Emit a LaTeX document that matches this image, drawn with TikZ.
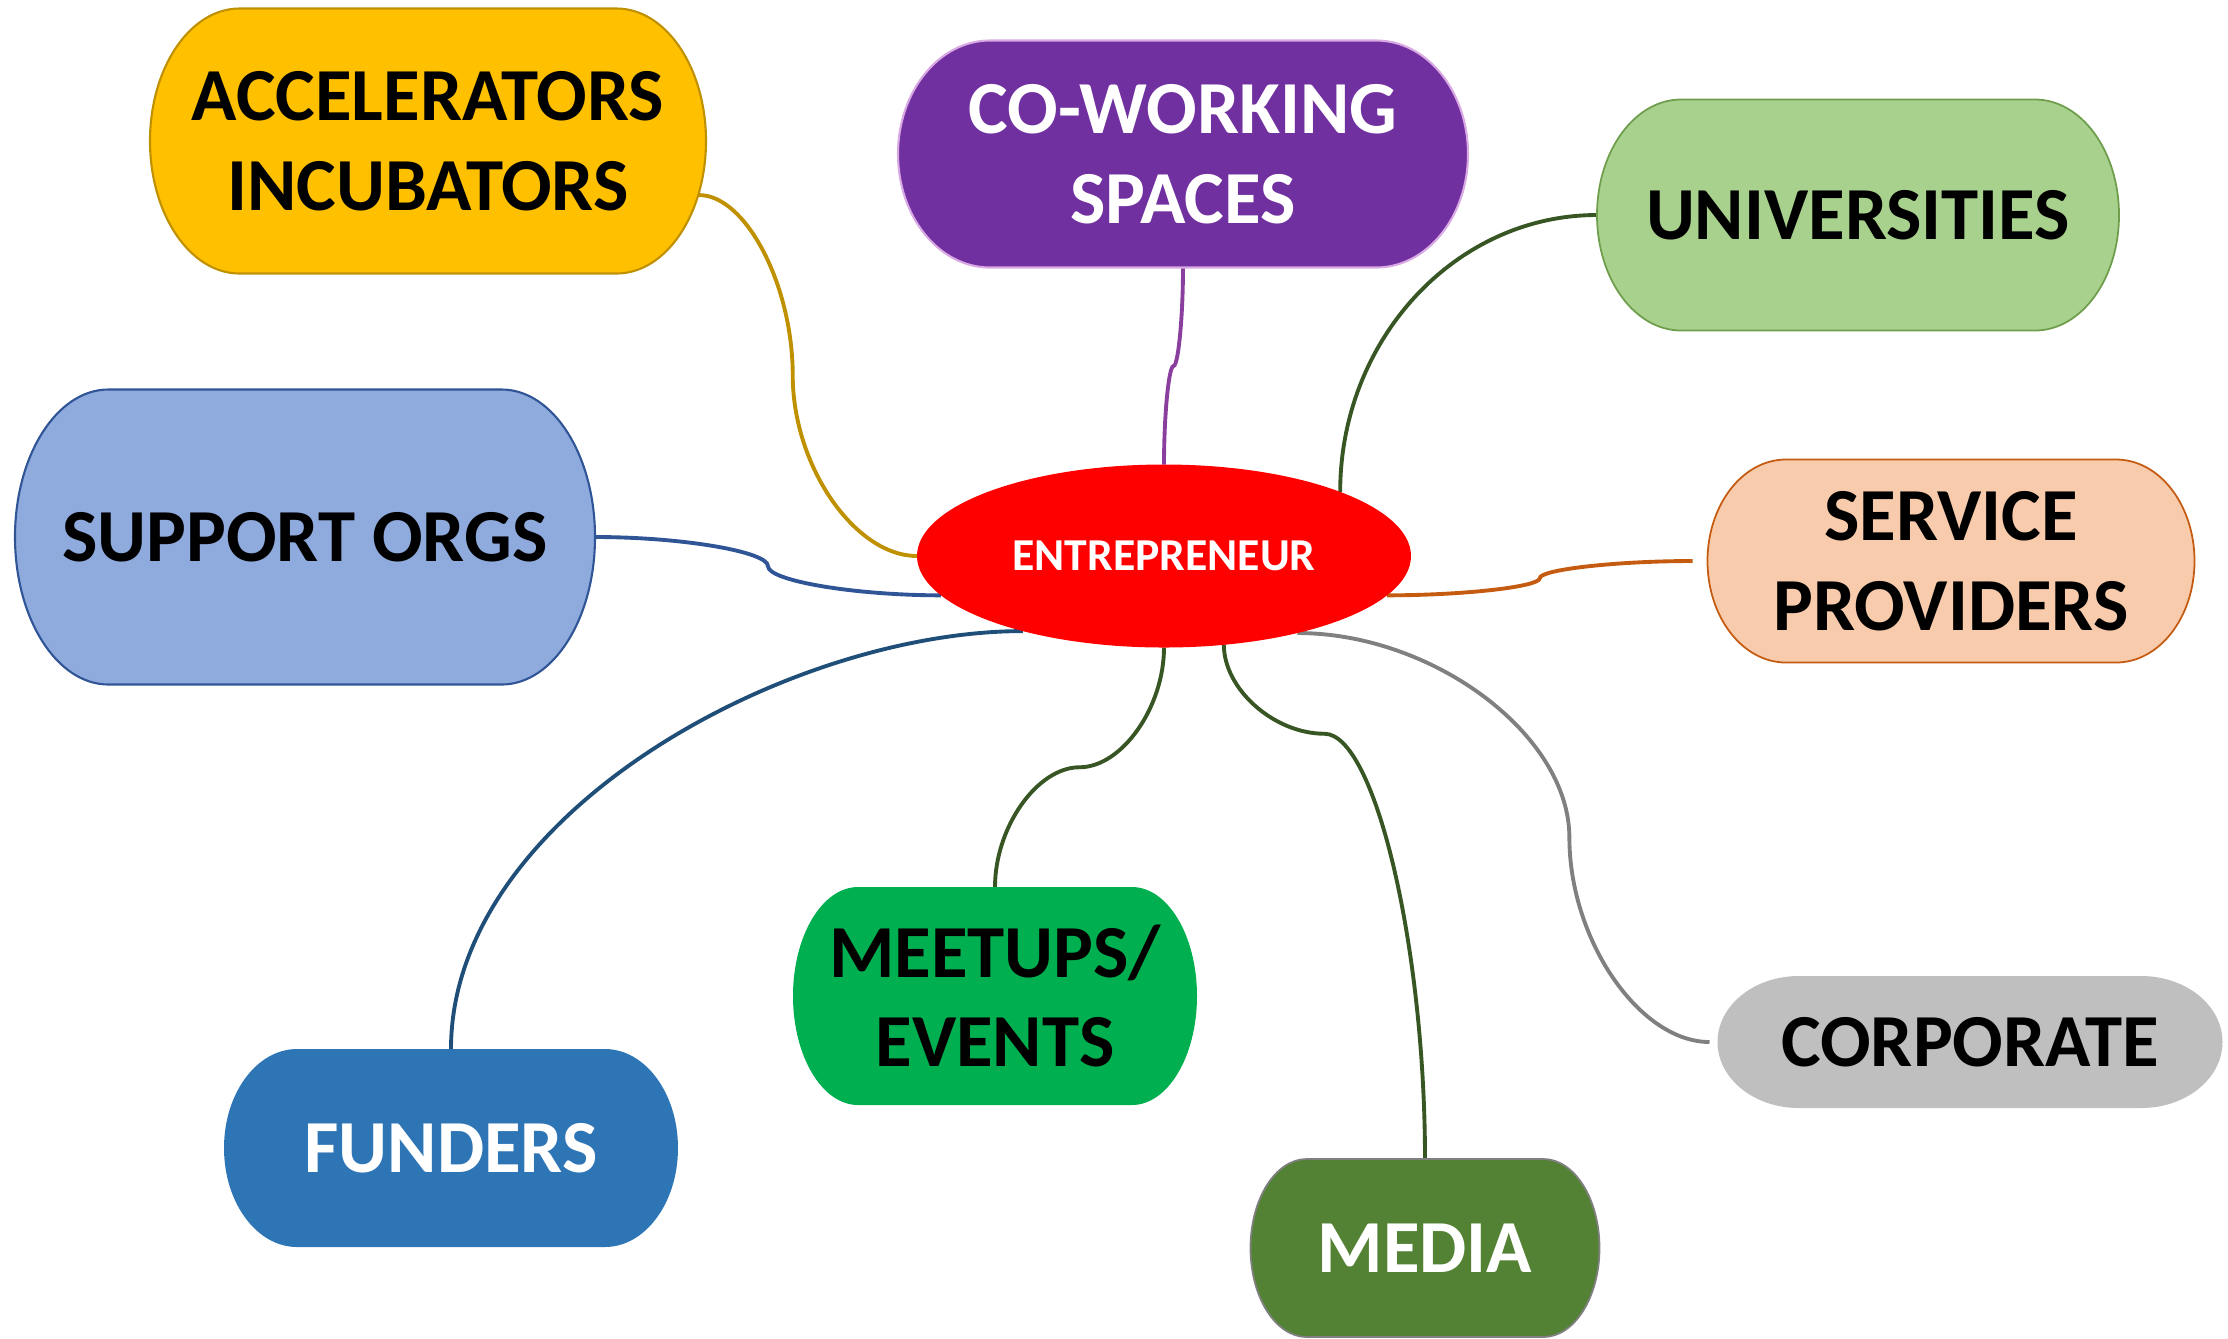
\documentclass[tikz,border=0pt]{standalone}
\usepackage{fontspec}
\setmainfont{Carlito}
\usetikzlibrary{calc,backgrounds,shapes.geometric}

\definecolor{accfill}{HTML}{FFC000}
\definecolor{accline}{HTML}{BF9000}
\definecolor{cofill}{HTML}{7030A0}
\definecolor{coline}{HTML}{D9A9E3}
\definecolor{colink}{HTML}{8A3E9E}
\definecolor{unifill}{HTML}{A9D18E}
\definecolor{uniline}{HTML}{6E9E4C}
\definecolor{supfill}{HTML}{8FAADC}
\definecolor{supline}{HTML}{2F5597}
\definecolor{servfill}{HTML}{F8CBAD}
\definecolor{servline}{HTML}{C55A11}
\definecolor{fundfill}{HTML}{2E75B6}
\definecolor{fundlink}{HTML}{1F4E79}
\definecolor{meetfill}{HTML}{00B050}
\definecolor{mediafill}{HTML}{548235}
\definecolor{corpfill}{HTML}{BFBFBF}
\definecolor{darkgreen}{HTML}{375623}

% box with half-ellipse ends, drawn round a node
\def\termshape(#1)[#2]{\path[#2] let \p1=(#1.south west), \p2=(#1.north east), \n1={0.161*(\x2-\x1)}, \n2={(\y2-\y1)/2} in ({\x1+\n1*1pt},\y2) -- ({\x2-\n1*1pt},\y2) arc[start angle=90, end angle=-90, x radius=\n1*1pt, y radius=\n2*1pt] -- ({\x1+\n1*1pt},\y1) arc[start angle=270, end angle=90, x radius=\n1*1pt, y radius=\n2*1pt] -- cycle;}
% curved links with one bend, #4 = where the bend sits
\def\bendh[#1](#2)(#3)#4{\draw[#1] let \p1=(#2), \p2=(#3), \n1={#4*(\x2-\x1)} in (\p1) .. controls +({\n1*0.5pt},0pt) and +(0pt,{(\y1-\y2)/4}) .. ({\x1+\n1*1pt},{(\y1+\y2)/2}) .. controls +(0pt,{(\y2-\y1)/4}) and +({(\x1-\x2+\n1*1pt)/2},0pt) .. (\p2);}
\def\bendv[#1](#2)(#3)#4{\draw[#1] let \p1=(#2), \p2=(#3), \n1={#4*(\y2-\y1)} in (\p1) .. controls +(0pt,{\n1*0.5pt}) and +({(\x1-\x2)/4},0pt) .. ({(\x1+\x2)/2},{\y1+\n1*1pt}) .. controls +({(\x2-\x1)/4},0pt) and +(0pt,{(\y1-\y2+\n1*1pt)/2}) .. (\p2);}

\begin{document}
\begin{tikzpicture}[
    box/.style={rectangle, inner sep=0pt, outer sep=0pt, align=center,
      font=\bfseries\fontsize{21.3}{25.5}\selectfont},
    link/.style={line width=1.1pt}]
  \useasboundingbox (0,0) rectangle (22.28,-13.38);

  % centre
  \node[ellipse, fill=red, inner sep=0pt, outer sep=0pt, minimum width=4.94cm, minimum height=1.83cm,
    text=white, font=\bfseries\fontsize{13}{15}\selectfont] (hub) at (11.64,-5.56) {ENTREPRENEUR};

  % boxes
  \node[box, minimum width=5.56cm, minimum height=2.65cm] (acc) at (4.28,-1.41) {ACCELERATORS\\INCUBATORS};
  \node[box, text=white, minimum width=5.70cm, minimum height=2.27cm] (co) at (11.83,-1.54) {CO-WORKING\\SPACES};
  \node[box, minimum width=5.22cm, minimum height=2.31cm] (univ) at (18.58,-2.15) {UNIVERSITIES};
  \node[box, minimum width=5.80cm, minimum height=2.95cm] (sup) at (3.05,-5.37) {SUPPORT ORGS};
  \node[box, minimum width=4.87cm, minimum height=2.03cm] (serv) at (19.51,-5.61) {SERVICE\\PROVIDERS};
  \node[box, text=white, minimum width=4.54cm, minimum height=1.98cm] (fund) at (4.51,-11.48) {FUNDERS};
  \node[box, minimum width=4.04cm, minimum height=2.18cm] (meet) at (9.95,-9.96) {MEETUPS/\\EVENTS};
  \node[box, text=white, minimum width=3.49cm, minimum height=1.78cm] (media) at (14.25,-12.48) {MEDIA};
  \node[box, minimum width=5.05cm, minimum height=1.32cm] (corp) at (19.70,-10.42) {CORPORATE};

  \coordinate (accout) at ($(acc.-11)+(-0.07,0)$);
  \coordinate (servin) at ($(serv.west)+(-0.15,0)$);
  \coordinate (corpin) at ($(corp.west)+(-0.08,0)$);

  \begin{scope}[on background layer]
    % links
    \bendh[link, accline](accout)(hub.west){.43}
    \bendv[link, colink](co.south)(hub.north){.5}
    \draw[link, darkgreen] (univ.west) .. controls +(-1.42,0) and +(0,1.52) .. (hub.20);
    \bendh[link, supline](sup.east)(hub.190){.5}
    \bendh[link, servline](hub.-10)(servin){.5}
    \draw[link, fundlink] (fund.north) .. controls +(0,2.35) and +(-2.35,0) .. (hub.208);
    \bendv[link, darkgreen](hub.south)(meet.north){.5}
    \bendv[link, darkgreen](hub.-56)(media.north){.173}
    \bendh[link, gray](hub.-30)(corpin){.66}
    % box shapes
    \termshape(acc)[fill=accfill, draw=accline, line width=0.6pt]
    \termshape(co)[fill=cofill, draw=coline, line width=0.6pt]
    \termshape(univ)[fill=unifill, draw=uniline, line width=0.5pt]
    \termshape(sup)[fill=supfill, draw=supline, line width=0.6pt]
    \termshape(serv)[fill=servfill, draw=servline, line width=0.5pt]
    \termshape(fund)[fill=fundfill]
    \termshape(meet)[fill=meetfill]
    \termshape(media)[fill=mediafill, draw=gray, line width=0.5pt]
    \termshape(corp)[fill=corpfill]
  \end{scope}
\end{tikzpicture}
\end{document}
